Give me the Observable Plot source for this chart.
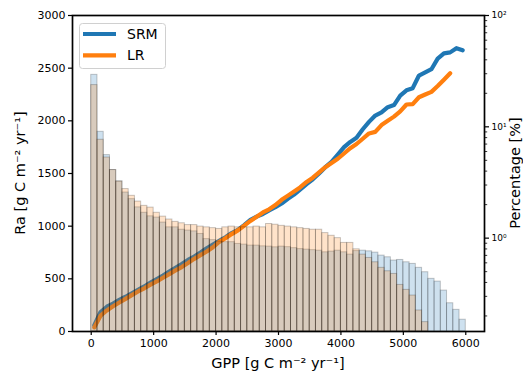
<!DOCTYPE html>
<html><head><meta charset="utf-8">
<script src="https://cdn.jsdelivr.net/npm/d3@7"></script>
<script src="https://cdn.jsdelivr.net/npm/@observablehq/plot@0.6"></script>
<style>
body{margin:0;background:#fff;}
#wrap{position:relative;width:523px;height:372px;overflow:hidden;}
#wrap svg{position:absolute;left:0;top:0;overflow:visible;}
</style></head><body><div id="wrap"></div>
<script>
// ---- data ----
const binWidth = 100;
const binLeft = d3.range(0, 6000, binWidth); // 60 histogram bins of GPP
const srmPct = [29.3,9.02,5.57,4.09,3.23,2.57,2.24,1.89,1.69,1.57,
  1.53,1.38,1.25,1.25,1.19,1.17,1.15,1.09,0.98,0.96,
  0.93,0.92,0.92,0.887,0.875,0.857,0.857,0.844,0.839,0.827,
  0.839,0.830,0.813,0.797,0.789,0.780,0.772,0.746,0.757,0.772,
  0.746,0.711,0.765,0.772,0.761,0.741,0.697,0.673,0.629,0.637,
  0.607,0.587,0.541,0.494,0.431,0.407,0.338,0.260,0.227,0.185];
const lrPct = [23.7,7.65,5.30,4.09,3.23,2.76,2.40,2.13,1.95,1.88,
  1.69,1.56,1.47,1.40,1.36,1.31,1.31,1.27,1.25,1.23,
  1.21,1.25,1.27,1.25,1.25,1.25,1.27,1.25,1.34,1.32,
  1.29,1.27,1.25,1.23,1.21,1.19,1.19,1.11,1.05,1.00,
  0.906,0.906,0.794,0.711,0.664,0.607,0.541,0.504,0.477,0.380,
  0.343,0.305,0.224,0.176];
const srmRa = [60,185,235,265,300,330,362,395,428,465,
  498,532,570,605,640,680,712,750,790,826,
  860,895,935,965,1010,1060,1090,1115,1150,1180,
  1215,1260,1300,1350,1400,1445,1500,1560,1610,1680,
  1750,1800,1840,1920,1990,2050,2080,2130,2150,2240,
  2290,2310,2430,2460,2490,2590,2640,2650,2690,2670];
const lrRa = [40,150,200,240,275,310,345,380,410,445,
  475,510,545,580,612,650,690,725,760,800,
  850,885,925,960,1005,1050,1090,1130,1160,1200,
  1250,1290,1330,1370,1420,1460,1510,1560,1600,1640,
  1690,1740,1780,1830,1880,1895,1960,2000,2040,2090,
  2155,2158,2224,2250,2275,2330,2390,2452];
const xTicks = [0,1000,2000,3000,4000,5000,6000];
const yTicks = [0,500,1000,1500,2000,2500,3000];
const pctMajor = [1,10,100];
const pctMajorLabels = ["10\u2070","10\u00b9","10\u00b2"];
const pctMinor = [0.2,0.3,0.4,0.5,0.6,0.7,0.8,0.9,2,3,4,5,6,7,8,9,20,30,40,50,60,70,80,90];
const seriesNames = ["SRM","LR"];
const colors = ["#1f77b4","#ff7f0e"];

// ---- tables ----
const srmLine = srmRa.map((v,i)=>({gpp:binLeft[i]+binWidth/2, ra:v}));
const lrLine = lrRa.map((v,i)=>({gpp:binLeft[i]+binWidth/2, ra:v}));
const srmBins = srmPct.map((v,i)=>({x1:binLeft[i], x2:binLeft[i]+binWidth, p:v}));
const lrBins = lrPct.map((v,i)=>({x1:binLeft[i], x2:binLeft[i]+binWidth, p:v}));

const W=523,H=372,mL=72,mR=39,mT=15,mB=41;
const xDomain=[-300,6300];
const logDomain=[0.145,100];
const font = "DejaVu Sans, sans-serif";

const p1 = Plot.plot({
  width:W,height:H,marginLeft:mL,marginRight:mR,marginTop:mT,marginBottom:mB,
  style:{fontFamily:font,fontSize:"11px",color:"black",background:"white"},
  x:{domain:xDomain},
  y:{domain:[0,3000]},
  marks:[
    Plot.axisX(xTicks,{tickSize:4,tickPadding:4,strokeWidth:1.2,label:null,tickFormat:d=>String(d)}),
    Plot.axisY(yTicks,{tickSize:4,tickPadding:3,strokeWidth:1.2,label:null,tickFormat:d=>String(d)}),
    Plot.line(srmLine,{x:"gpp",y:"ra",stroke:colors[0],strokeWidth:4.2}),
    Plot.line(lrLine,{x:"gpp",y:"ra",stroke:colors[1],strokeWidth:4.2})
  ]
});

const histStyle = {x1:"x1",x2:"x2",y1:logDomain[0],y2:"p",inset:0,fillOpacity:0.22,stroke:"black",strokeOpacity:0.22,strokeWidth:1};
const p2 = Plot.plot({
  width:W,height:H,marginLeft:mL,marginRight:mR,marginTop:mT,marginBottom:mB,
  style:{fontFamily:font,fontSize:"9px",color:"black",background:"transparent"},
  x:{domain:xDomain,axis:null},
  y:{type:"log",domain:logDomain},
  marks:[
    Plot.rectY(srmBins,{...histStyle,fill:colors[0]}),
    Plot.rectY(lrBins,{...histStyle,fill:colors[1]}),
    Plot.axisY(pctMinor,{anchor:"right",tickSize:2.2,strokeWidth:0.8,tickFormat:()=>"",label:null}),
    Plot.axisY(pctMajor,{anchor:"right",tickSize:4,tickPadding:3,strokeWidth:1.2,label:null,tickFormat:(d)=>pctMajorLabels[pctMajor.indexOf(d)]}),
    Plot.frame({stroke:"black",strokeWidth:1.7})
  ]
});

const wrap=document.getElementById("wrap");
wrap.appendChild(p1);
wrap.appendChild(p2);

// axis titles and legend
const s = d3.select(p2);
const g = s.append("g").style("font-family",font).attr("fill","black");
g.append("text").attr("x",(mL+W-mR)/2).attr("y",368).attr("text-anchor","middle").style("font-size","14.5px")
  .text("GPP [g C m\u207b\u00b2 yr\u207b\u00b9]");
g.append("text").attr("transform",`translate(25,${(mT+H-mB)/2}) rotate(-90)`).attr("text-anchor","middle").style("font-size","14.5px")
  .text("Ra [g C m\u207b\u00b2 yr\u207b\u00b9]");
g.append("text").attr("transform",`translate(520,${(mT+H-mB)/2}) rotate(-90)`).attr("text-anchor","middle").style("font-size","14.5px")
  .text("Percentage [%]");

const lg = s.append("g");
lg.append("rect").attr("x",79.5).attr("y",23.5).attr("width",86).attr("height",45).attr("rx",3)
  .attr("fill","white").attr("fill-opacity",0.8).attr("stroke","#d0d0d0");
seriesNames.forEach((n,i)=>{
  const y = 34 + i*21.3;
  lg.append("line").attr("x1",83).attr("x2",116).attr("y1",y).attr("y2",y).attr("stroke",colors[i]).attr("stroke-width",4.2).attr("stroke-linecap","butt");
  lg.append("text").attr("x",127).attr("y",y+5).attr("text-anchor","start").style("font-family",font).style("font-size","14px").attr("fill","black").text(n);
});
</script></body></html>
